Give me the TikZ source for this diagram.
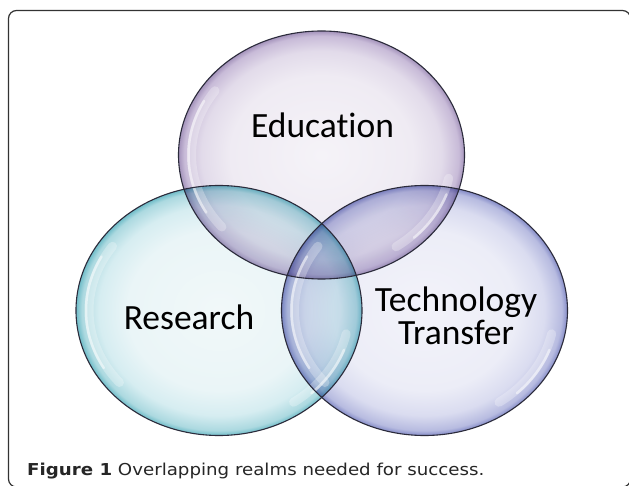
\documentclass[tikz,border=0pt]{standalone}
\usepackage{fontspec}
\setmainfont{Carlito}[Ligatures=NoCommon]
\newfontfamily\capfont{DejaVu Sans}
\usetikzlibrary{calc}
\definecolor{ea}{HTML}{F5F3F8}
\definecolor{eb}{HTML}{EFEBF3}
\definecolor{ec}{HTML}{E2DBEA}
\definecolor{ed}{HTML}{C8BBD8}
\definecolor{ee}{HTML}{A493BB}
\definecolor{ra}{HTML}{F1F8F9}
\definecolor{rb}{HTML}{EAF5F7}
\definecolor{rc}{HTML}{D6EDF1}
\definecolor{rd}{HTML}{ACD9E0}
\definecolor{re}{HTML}{6FBCC8}
\definecolor{ta}{HTML}{F3F3FA}
\definecolor{tb}{HTML}{ECEDF7}
\definecolor{tc}{HTML}{DADCF0}
\definecolor{td}{HTML}{B7BBE0}
\definecolor{te}{HTML}{848BC7}
\definecolor{rim}{HTML}{2B2B3B}
\definecolor{framec}{HTML}{333333}
\pgfdeclareradialshading{edubub}{\pgfpoint{0bp}{0bp}}{color(0bp)=(ea); color(16bp)=(eb); color(21bp)=(ec); color(24bp)=(ed); color(25bp)=(ee); color(50bp)=(ee)}
\pgfdeclareradialshading{resbub}{\pgfpoint{0bp}{0bp}}{color(0bp)=(ra); color(16bp)=(rb); color(21bp)=(rc); color(24bp)=(rd); color(25bp)=(re); color(50bp)=(re)}
\pgfdeclareradialshading{tecbub}{\pgfpoint{0bp}{0bp}}{color(0bp)=(ta); color(16bp)=(tb); color(21bp)=(tc); color(24bp)=(td); color(25bp)=(te); color(50bp)=(te)}
\tikzset{
  bubble/.style={blend mode=multiply},
  rimline/.style={draw=rim, line width=1.1pt},
  gloss/.style={draw=white, line width=2.5pt, opacity=0.5, line cap=round},
  softgloss/.style={draw=white, line width=9pt, opacity=0.28, line cap=round},
  label/.style={font=\fontsize{35.5}{40}\selectfont, text=black, inner sep=0pt, anchor=base},
}
\begin{document}
\begin{tikzpicture}[x=1pt,y=1pt]
\useasboundingbox (0,0) rectangle (629,485);
\fill[white] (0,0) rectangle (629,485);
\draw[framec, line width=1.2pt, rounded corners=8pt] (8.5,474.5) rectangle (630.5,-2);
\coordinate (edu) at (321.5,330);
\coordinate (res) at (219,174.5);
\coordinate (tec) at (424.5,174.5);
% fills
\shade[bubble, shading=resbub] (res) ellipse [x radius=143, y radius=125];
\shade[bubble, shading=tecbub] (tec) ellipse [x radius=143, y radius=125];
\shade[bubble, shading=edubub] (edu) ellipse [x radius=143, y radius=124];
% glossy highlights
\foreach \c in {res,tec,edu}{
  \draw[softgloss] ($(\c)+(145:130 and 112)$) arc [start angle=145, end angle=220, x radius=130, y radius=112];
  \draw[gloss] ($(\c)+(152:133 and 115)$) arc [start angle=152, end angle=210, x radius=133, y radius=115];
  \draw[softgloss] ($(\c)+(-55:130 and 112)$) arc [start angle=-55, end angle=-12, x radius=130, y radius=112];
  \draw[gloss] ($(\c)+(-46:133 and 115)$) arc [start angle=-46, end angle=-20, x radius=133, y radius=115];
}
% rims
\draw[rimline] (res) ellipse [x radius=143, y radius=125];
\draw[rimline] (tec) ellipse [x radius=143, y radius=125];
\draw[rimline] (edu) ellipse [x radius=143, y radius=124];
% labels
\node[label] (edutext) at (322.5,347) {Education};
\node[label] (restext) at (189,155) {Research};
\node[label] (tectext) at (456,173) {Technology};
\node[label] (trtext) at (456,140) {Transfer};
\node[anchor=base west, inner sep=0pt, font=\capfont\fontsize{16.4}{20}\selectfont, text=black!85] (cap) at (27,10) {\scalebox{1.11}[1]{\textbf{Figure 1} Overlapping realms needed for success.}};
\end{tikzpicture}
\end{document}
